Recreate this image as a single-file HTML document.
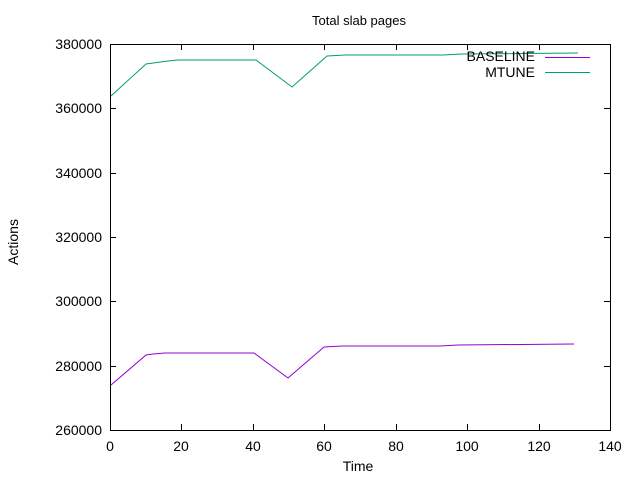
<!DOCTYPE html>
<html><head><style>body{margin:0;background:#fff}</style></head><body>
<svg width="640" height="480" xmlns="http://www.w3.org/2000/svg" font-family="Liberation Sans, DejaVu Sans, sans-serif" font-size="14">
<rect width="640" height="480" fill="#fff"/>
<text x="359" y="25" text-anchor="middle" font-size="13">Total slab pages</text>
<g stroke="#000" stroke-width="1" fill="none">
<rect x="110.5" y="44.5" width="500" height="386"/>
<path d="M110 108.5h6M610 108.5h-6M110 173.5h6M610 173.5h-6M110 237.5h6M610 237.5h-6M110 301.5h6M610 301.5h-6M110 366.5h6M610 366.5h-6M110 44.5h6M610 44.5h-6M110 430.5h6M610 430.5h-6"/>
<path d="M181.5 430v-6M181.5 44v6M253.5 430v-6M253.5 44v6M324.5 430v-6M324.5 44v6M396.5 430v-6M396.5 44v6M467.5 430v-6M467.5 44v6M539.5 430v-6M539.5 44v6"/>
</g>
<g text-anchor="end">
<text x="102" y="49">380000</text><text x="102" y="113">360000</text><text x="102" y="178">340000</text><text x="102" y="242">320000</text><text x="102" y="306">300000</text><text x="102" y="371">280000</text><text x="102" y="435">260000</text>
</g>
<g text-anchor="middle">
<text x="110" y="451">0</text><text x="181" y="451">20</text><text x="253" y="451">40</text><text x="324" y="451">60</text><text x="396" y="451">80</text><text x="467" y="451">100</text><text x="539" y="451">120</text><text x="610" y="451">140</text>
<text x="358" y="471">Time</text>
<text x="18" y="242" transform="rotate(-90 18 242)">Actions</text>
</g>
<polyline fill="none" stroke="#9400d3" stroke-width="1" points="111,385 146,355 153,354 165,353 254,353 288,378 324,347 342,346 440,346 458,345 574,344"/>
<polyline fill="none" stroke="#009e73" stroke-width="1" points="111,96 146,64 168,61 178,60 256,60 292,87 327,56 345,55 443,55 462,54 578,53"/>
<g text-anchor="end">
<text x="535" y="61">BASELINE</text><text x="535" y="77">MTUNE</text>
</g>
<line x1="545" y1="57.5" x2="590" y2="57.5" stroke="#9400d3"/>
<line x1="545" y1="72.5" x2="590" y2="72.5" stroke="#009e73"/>
</svg>
</body></html>
